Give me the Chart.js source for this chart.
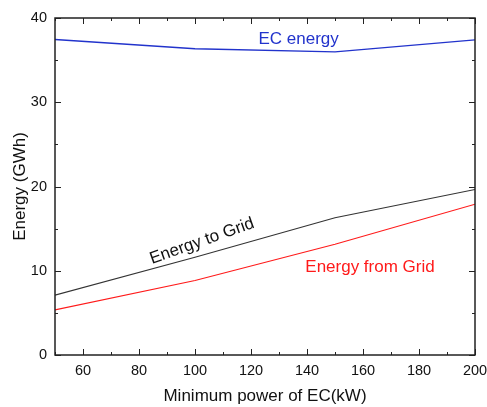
<!DOCTYPE html>
<html>
<head>
<meta charset="utf-8">
<script src="https://cdn.jsdelivr.net/npm/chart.js@4"></script>
<style>
  html, body { margin: 0; padding: 0; background: #fff; }
  #wrap { width: 487px; height: 407px; }
</style>
</head>
<body>
<div id="wrap"><canvas id="grafico"></canvas></div>
<script>
// dados
const potenciaMin = [50, 100, 150, 200]
const energiaEC = [37.45, 36.35, 35.98, 37.4]
const energiaParaRede = [7.1, 11.6, 16.3, 19.65]
const energiaDaRede = [5.35, 8.85, 13.15, 17.9]

const xTicks = [60, 80, 100, 120, 140, 160, 180, 200]
const yTicks = [0, 10, 20, 30, 40]

const fonte = "'Liberation Sans', Arial, sans-serif"

const pontos = (ys) => potenciaMin.map((x, i) => ({ x, y: ys[i] }))

// rótulos dentro do gráfico (em coordenadas dos dados)
const rotulos = [
  { text: 'EC energy', x: 137, y: 37.5, color: '#2233cc', rot: 0 },
  { text: 'Energy to Grid', x: 102.5, y: 13.5, color: '#111111', rot: -19.5 },
  { text: 'Energy from Grid', x: 162.5, y: 10.4, color: '#ff1a1a', rot: 0 }
]

// ticks para dentro, nos quatro lados, com ticks menores
const ticksParaDentro = {
  id: 'ticksParaDentro',
  afterDraw(chart) {
    const { ctx, chartArea: a, scales: { x, y } } = chart
    ctx.save()
    ctx.strokeStyle = '#222'
    ctx.lineWidth = 1
    ctx.beginPath()
    for (let v = 50; v <= 200; v += 10) {
      const px = Math.round(x.getPixelForValue(v)) + 0.5
      const len = v % 20 === 0 ? 6 : 3
      ctx.moveTo(px, a.bottom); ctx.lineTo(px, a.bottom - len)
      ctx.moveTo(px, a.top); ctx.lineTo(px, a.top + len)
    }
    for (let v = 0; v <= 40; v += 5) {
      const py = Math.round(y.getPixelForValue(v)) + 0.5
      const len = v % 10 === 0 ? 6 : 3
      ctx.moveTo(a.left, py); ctx.lineTo(a.left + len, py)
      ctx.moveTo(a.right, py); ctx.lineTo(a.right - len, py)
    }
    ctx.stroke()
    ctx.lineWidth = 1.5
    ctx.strokeRect(a.left, a.top, a.right - a.left, a.bottom - a.top)

    ctx.font = '17px ' + fonte
    ctx.textAlign = 'center'
    ctx.textBaseline = 'middle'
    rotulos.forEach(r => {
      ctx.save()
      ctx.translate(x.getPixelForValue(r.x), y.getPixelForValue(r.y))
      ctx.rotate(r.rot * Math.PI / 180)
      ctx.fillStyle = r.color
      ctx.fillText(r.text, 0, 0)
      ctx.restore()
    })
    ctx.restore()
  }
}

const ctx = document.querySelector('#grafico')
const chart = new Chart(ctx, {
  type: 'line',
  data: {
    datasets: [
      { label: 'EC energy', data: pontos(energiaEC), borderColor: '#2233cc', borderWidth: 1.3 },
      { label: 'Energy to Grid', data: pontos(energiaParaRede), borderColor: '#333333', borderWidth: 1.1 },
      { label: 'Energy from Grid', data: pontos(energiaDaRede), borderColor: '#ff1a1a', borderWidth: 1.1 }
    ]
  },
  options: {
    responsive: true,
    maintainAspectRatio: false,
    animation: false,
    elements: { point: { radius: 0 }, line: { tension: 0 } },
    layout: { padding: { left: 0, top: 18, right: 0, bottom: 0 } },
    plugins: { legend: { display: false }, tooltip: { enabled: false } },
    scales: {
      x: {
        type: 'linear',
        min: 50, max: 200,
        afterBuildTicks: (s) => { s.ticks = xTicks.map(v => ({ value: v })) },
        afterFit: (s) => { s.height = 52; s.paddingRight = 12; s.paddingLeft = 0 },
        grid: { display: false, drawTicks: false },
        border: { display: false },
        ticks: { color: '#111', padding: 7, font: { family: fonte, size: 14.5 } },
        title: { display: true, text: 'Minimum power of EC(kW)', color: '#111', padding: { top: 4, bottom: 0 }, font: { family: fonte, size: 17 } }
      },
      y: {
        min: 0, max: 40,
        afterBuildTicks: (s) => { s.ticks = yTicks.map(v => ({ value: v })) },
        afterFit: (s) => { s.width = 55 },
        grid: { display: false, drawTicks: false },
        border: { display: false },
        ticks: { color: '#111', padding: 8, font: { family: fonte, size: 14.5 } },
        title: { display: true, text: 'Energy (GWh)', color: '#111', padding: { top: 10 }, font: { family: fonte, size: 17 } }
      }
    }
  },
  plugins: [ticksParaDentro]
})
</script>
</body>
</html>
